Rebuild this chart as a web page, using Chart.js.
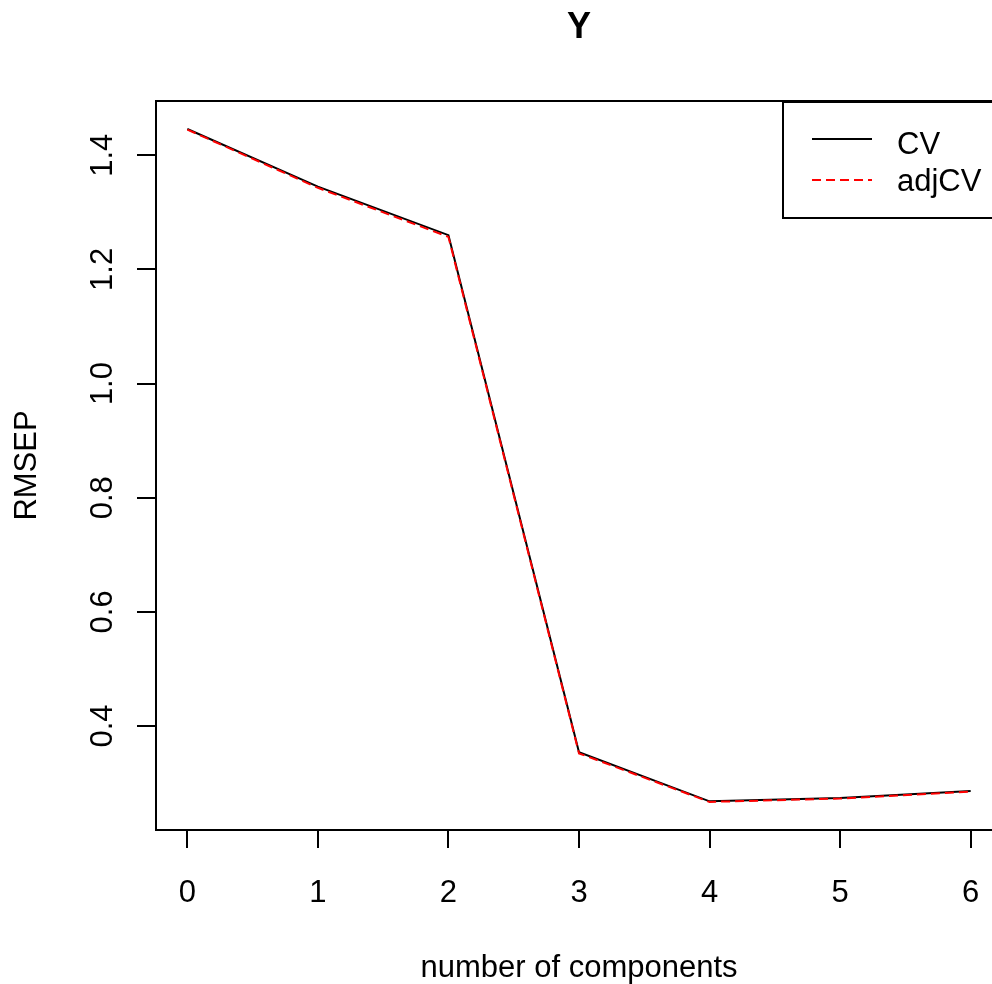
<!DOCTYPE html>
<html>
<head>
<meta charset="utf-8">
<script src="https://cdn.jsdelivr.net/npm/chart.js@4"></script>
<style>
  html, body { margin: 0; padding: 0; background: #fff; overflow: hidden; }
  canvas { display: block; }
</style>
</head>
<body>
<canvas id="myChart" width="1010" height="984"></canvas>
<script>
// values
const components = [0, 1, 2, 3, 4, 5, 6];
const cvValues = [1.446, 1.345, 1.260, 0.354, 0.268, 0.274, 0.286];
const adjCvValues = [1.445, 1.343, 1.257, 0.352, 0.267, 0.273, 0.285];
const xTicks = [0, 1, 2, 3, 4, 5, 6];
const yTicks = [0.4, 0.6, 0.8, 1.0, 1.2, 1.4];
const yTickLabels = ['0.4', '0.6', '0.8', '1.0', '1.2', '1.4'];

const fontFam = '"Liberation Sans", Arial, sans-serif';
const fontSize = 31;

// box, rotated y labels, title and legend the R way
const rPlot = {
  id: 'rPlot',
  afterDraw(chart) {
    const ctx = chart.ctx;
    const a = chart.chartArea;
    ctx.save();
    ctx.strokeStyle = '#000';
    ctx.lineWidth = 2;
    ctx.strokeRect(a.left, a.top, a.right - a.left, a.bottom - a.top);

    const ys = chart.scales.y;
    ctx.fillStyle = '#000';
    ctx.font = fontSize + 'px ' + fontFam;
    ctx.textAlign = 'center';
    ctx.textBaseline = 'middle';
    yTicks.forEach((v, i) => {
      ctx.save();
      ctx.translate(103, ys.getPixelForValue(v));
      ctx.rotate(-Math.PI / 2);
      ctx.fillText(yTickLabels[i], 0, 0);
      ctx.restore();
    });

    ctx.font = 'bold 36px ' + fontFam;
    ctx.fillText('Y', (a.left + a.right) / 2, 28);

    // legend
    ctx.lineWidth = 2;
    ctx.strokeRect(783, 102, 240, 116);
    ctx.beginPath();
    ctx.moveTo(812, 139); ctx.lineTo(872, 139);
    ctx.strokeStyle = '#000';
    ctx.stroke();
    ctx.beginPath();
    ctx.setLineDash([9, 5]);
    ctx.moveTo(812, 180); ctx.lineTo(872, 180);
    ctx.strokeStyle = '#ff0000';
    ctx.stroke();
    ctx.setLineDash([]);
    ctx.textAlign = 'left';
    ctx.font = fontSize + 'px ' + fontFam;
    ctx.fillText('CV', 897, 145);
    ctx.fillText('adjCV', 897, 182);
    ctx.restore();
  }
};

const ctx = document.getElementById('myChart');

new Chart(ctx, {
  type: 'line',
  data: {
    datasets: [{
      label: 'adjCV',
      data: components.map((c, i) => ({ x: c, y: adjCvValues[i] })),
      borderColor: '#ff0000',
      borderWidth: 2,
      borderDash: [9, 5],
      pointRadius: 0,
      tension: 0,
      fill: false
    }, {
      label: 'CV',
      data: components.map((c, i) => ({ x: c, y: cvValues[i] })),
      borderColor: '#000000',
      borderWidth: 2,
      pointRadius: 0,
      tension: 0,
      fill: false
    }]
  },
  options: {
    responsive: false,
    animation: false,
    layout: { padding: { top: 101, right: 8, left: 0, bottom: 0 } },
    plugins: {
      legend: { display: false },
      tooltip: { enabled: false },
      title: { display: false }
    },
    scales: {
      x: {
        type: 'linear',
        min: -0.24,
        max: 6.24,
        afterBuildTicks: s => { s.ticks = xTicks.map(v => ({ value: v })); },
        afterFit: s => { s.height = 154; },
        grid: { drawOnChartArea: false, drawTicks: true, tickLength: 18, color: '#000', tickColor: '#000', lineWidth: 2 },
        border: { display: true, color: '#000', width: 2 },
        ticks: {
          color: '#000',
          font: { family: fontFam, size: fontSize },
          padding: 27,
          maxRotation: 0,
          autoSkip: false
        },
        title: {
          display: true,
          text: 'number of components',
          color: '#000',
          font: { family: fontFam, size: fontSize },
          padding: { top: 0, bottom: -3 }
        }
      },
      y: {
        type: 'linear',
        min: 0.2178,
        max: 1.4951,
        afterBuildTicks: s => { s.ticks = yTicks.map(v => ({ value: v })); },
        afterFit: s => { s.width = 156; },
        grid: { drawOnChartArea: false, drawTicks: true, tickLength: 19, color: '#000', tickColor: '#000', lineWidth: 2 },
        border: { display: true, color: '#000', width: 2 },
        ticks: { display: false },
        title: {
          display: true,
          text: 'RMSEP',
          color: '#000',
          font: { family: fontFam, size: fontSize },
          padding: { top: 9, bottom: 9 }
        }
      }
    }
  },
  plugins: [rPlot]
});
</script>
</body>
</html>
